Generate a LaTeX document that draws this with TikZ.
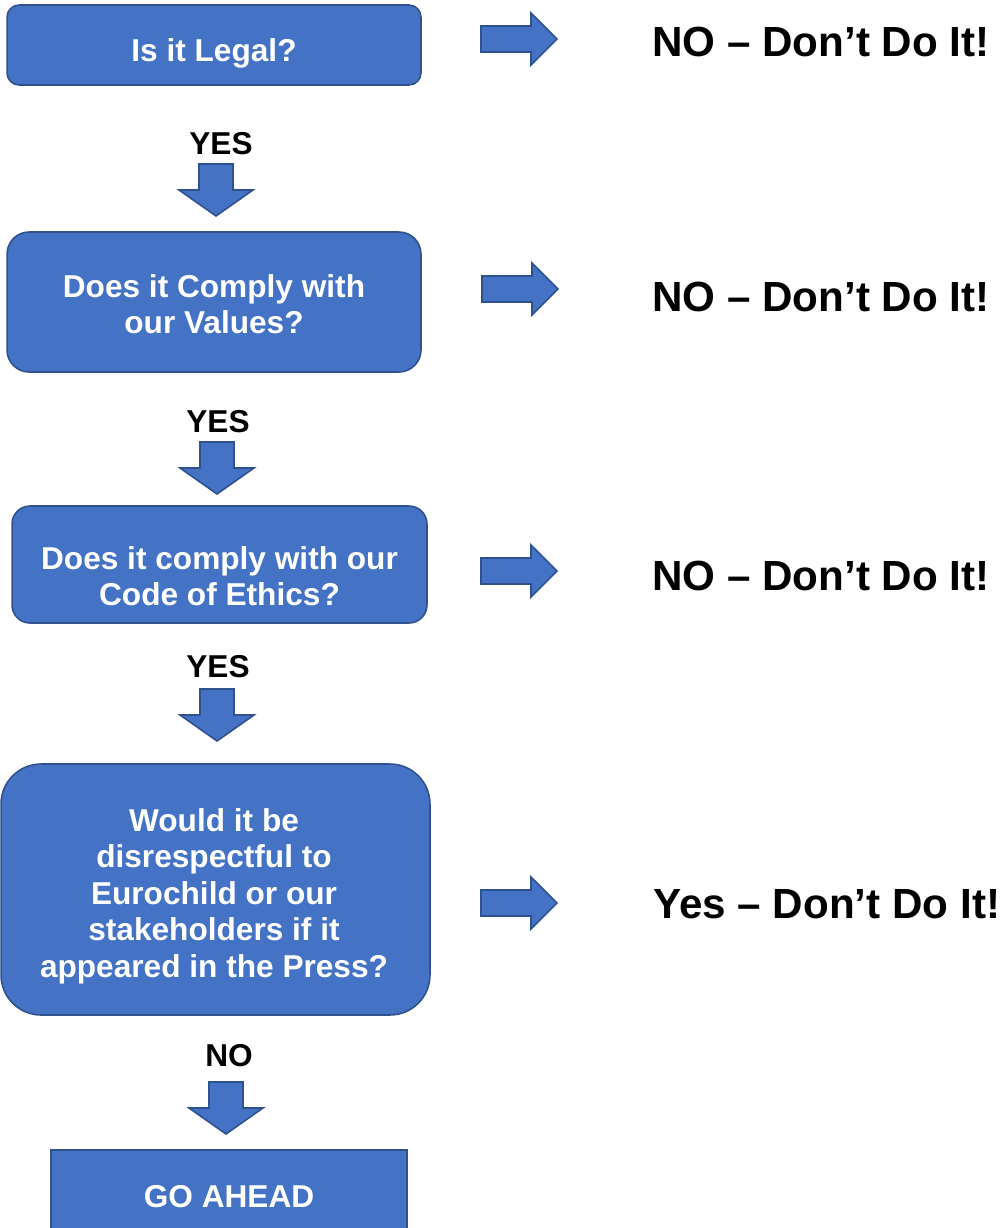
\documentclass[tikz,border=0pt]{standalone}
\usepackage{fontspec}
\setmainfont{Liberation Sans}
\usepackage{xcolor}
\definecolor{boxblue}{HTML}{4472C4}
\definecolor{edgeblue}{HTML}{2F528F}

\tikzset{
  qbox/.style={draw=edgeblue,fill=boxblue,line width=0.9pt,inner sep=0pt},
  qtext/.style={text=white,font=\bfseries\fontsize{18}{20.8}\selectfont,align=center,inner sep=0pt},
  answer/.style={font=\bfseries\fontsize{24}{28}\selectfont,anchor=west,inner sep=0pt},
  flowlabel/.style={font=\bfseries\fontsize{18}{20}\selectfont,inner sep=0pt},
  rarrow/.pic={\filldraw[draw=edgeblue,fill=boxblue,line width=0.9pt]
    (-38,-13) -- (12,-13) -- (12,-26) -- (38,0) -- (12,26) -- (12,13) -- (-38,13) -- cycle;},
  darrow/.pic={\filldraw[draw=edgeblue,fill=boxblue,line width=0.9pt]
    (-17,-26) -- (17,-26) -- (17,0) -- (37,0) -- (0,26) -- (-37,0) -- (-17,0) -- cycle;}
}

\begin{document}
\begin{tikzpicture}[x=0.02cm,y=-0.02cm]
\useasboundingbox (0,0) rectangle (1005,1228);
\clip (0,0) rectangle (1005,1228);
% question boxes
\node[qbox,rounded corners=0.24cm,minimum width=8.28cm,minimum height=1.6cm] (legal) at (214,45) {};
\node[qbox,rounded corners=0.44cm,minimum width=8.28cm,minimum height=2.8cm] (values) at (214,302) {};
\node[qbox,rounded corners=0.36cm,minimum width=8.3cm,minimum height=2.34cm] (ethics) at (219.5,564.5) {};
\node[qbox,rounded corners=0.8cm,minimum width=8.58cm,minimum height=5.02cm] (press) at (215.5,889.5) {};
\node[qbox,minimum width=7.12cm,minimum height=2cm] (goahead) at (229,1200) {};
\node[qtext] (legaltxt) at (214,53) {Is it Legal?};
\node[qtext] (valuestxt) at (214,304) {Does it Comply with\\our Values?};
\node[qtext] (ethicstxt) at (219.5,576) {Does it comply with our\\Code of Ethics?};
\node[qtext] (presstxt) at (214,896) {Would it be\\disrespectful to\\Eurochild or our\\stakeholders if it\\appeared in the Press?};
\node[qtext] (goaheadtxt) at (229,1197) {GO AHEAD};
% block arrows
\pic (ra1) at (519,39) {rarrow};
\pic (ra2) at (520,289) {rarrow};
\pic (ra3) at (519,571) {rarrow};
\pic (ra4) at (519,903) {rarrow};
\pic (da1) at (216,190) {darrow};
\pic (da2) at (217,468) {darrow};
\pic (da3) at (217,715) {darrow};
\pic (da4) at (226,1108) {darrow};
% labels
\node[flowlabel] (yes1) at (221,144) {YES};
\node[flowlabel] (yes2) at (218,422) {YES};
\node[flowlabel] (yes3) at (218,667) {YES};
\node[flowlabel] (no4) at (229,1056) {NO};
\node[answer] (ans1) at (652,42) {NO – Don’t Do It!};
\node[answer] (ans2) at (652,297) {NO – Don’t Do It!};
\node[answer] (ans3) at (652,576) {NO – Don’t Do It!};
\node[answer] (ans4) at (653,904) {Yes – Don’t Do It!};
\end{tikzpicture}
\end{document}
